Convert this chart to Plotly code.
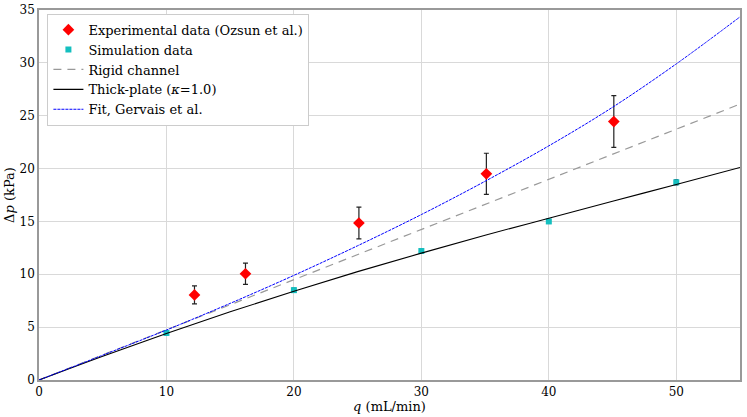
import plotly.graph_objects as go

# measured points
q_exp = [12.2, 16.2, 25.1, 35.1, 45.1]
dp_exp = [8.05, 10.05, 14.85, 19.5, 24.45]
err_exp = [0.85, 1.0, 1.5, 1.95, 2.45]

q_sim = [10, 20, 30, 40, 50]
dp_sim = [4.45, 8.5, 12.2, 15.0, 18.7]
err_sim = [0.2, 0.2, 0.2, 0.2, 0.25]

# model curves, read at every 5 mL/min
q_line = [0, 5, 10, 15, 20, 25, 30, 35, 40, 45, 50, 55]
dp_rigid = [0, 2.37, 4.74, 7.1, 9.48, 11.85, 14.2, 16.6, 18.95, 21.3, 23.7, 26.1]
dp_thick = [0, 2.25, 4.4, 6.45, 8.4, 10.25, 12.0, 13.7, 15.3, 16.9, 18.5, 20.1]
dp_fit = [0, 2.35, 4.73, 7.25, 9.9, 12.7, 15.65, 18.8, 22.15, 25.8, 29.9, 34.35]

font = "DejaVu Serif"

fig = go.Figure()

fig.add_trace(go.Scatter(
    x=q_exp, y=dp_exp, mode="markers", name="Experimental data (Ozsun et al.)",
    marker=dict(symbol="diamond", color="red", size=9),
    error_y=dict(type="data", array=err_exp, color="#222", thickness=1.2, width=2.5),
))
fig.add_trace(go.Scatter(
    x=q_sim, y=dp_sim, mode="markers", name="Simulation data",
    marker=dict(symbol="square", color="#14bfbf", size=6),
    error_y=dict(type="data", array=err_sim, color="#224", thickness=1, width=2),
))
fig.add_trace(go.Scatter(
    x=q_line, y=dp_rigid, mode="lines", name="Rigid channel",
    line=dict(color="#999999", width=1.2, dash="8px,6px"),
))
fig.add_trace(go.Scatter(
    x=q_line, y=dp_thick, mode="lines", name="Thick-plate (<i>κ</i>=1.0)",
    line=dict(color="black", width=1.1, shape="spline"),
))
fig.add_trace(go.Scatter(
    x=q_line, y=dp_fit, mode="lines", name="Fit, Gervais et al.",
    line=dict(color="blue", width=1, dash="3px,1px", shape="spline"),
))

axis = dict(
    showgrid=True, gridcolor="#d9d9d9", gridwidth=1,
    showline=True, linecolor="#999999", linewidth=1.5, mirror=True,
    ticks="", zeroline=False, automargin=False,
    tickfont=dict(family=font, size=12, color="black"),
)

fig.update_layout(
    width=747, height=417,
    margin=dict(l=39, r=7, t=10, b=37),
    plot_bgcolor="white", paper_bgcolor="white",
    font=dict(family=font, size=13, color="black"),
    xaxis=dict(axis, range=[0, 55], dtick=10,
               title=dict(text="<i>q</i> (mL/min)", font=dict(size=13), standoff=0)),
    yaxis=dict(axis, range=[0, 35], dtick=5,
               title=dict(text="Δ<i>p</i> (kPa)", font=dict(size=13), standoff=2)),
    legend=dict(x=0.012, y=0.99, xanchor="left", yanchor="top",
                bgcolor="white", bordercolor="#cccccc", borderwidth=1,
                font=dict(family=font, size=13), itemwidth=30,
                tracegroupgap=0),
    showlegend=True,
)

# page body has a default 8px margin; drop it so the figure fills the window
fig.write_html("out.html", config={"displayModeBar": False},
               post_script="document.body.style.margin='0';")
